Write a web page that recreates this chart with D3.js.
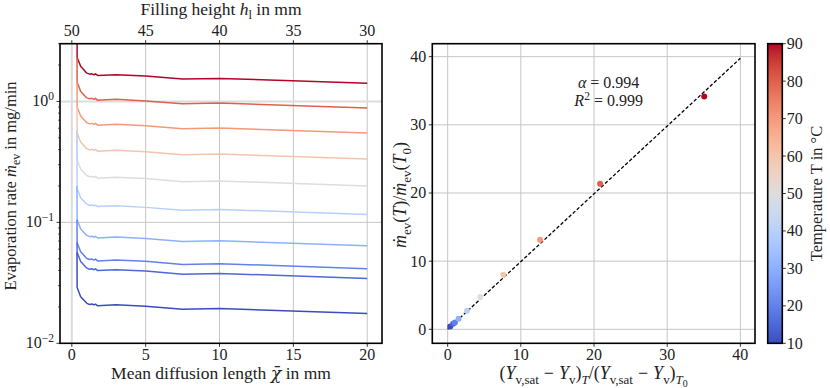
<!DOCTYPE html>
<html><head><meta charset="utf-8">
<script src="https://cdn.jsdelivr.net/npm/d3@7"></script>
<style>
body{margin:0;background:#fff}
svg{display:block}
text{font-family:"Liberation Serif","DejaVu Serif",serif;fill:#222}
</style>
</head><body>
<svg id="c" width="830" height="388"></svg>
<script>
// ---------------- data ----------------
const chi = [0.35, 0.36, 0.6, 1.0, 1.2, 1.35, 1.5, 1.6, 1.75, 3.0, 5.0, 7.5, 10.0, 20.0];
const temps = [90, 80, 70, 60, 50, 40, 30, 20, 15, 10];
const rate90 = [12.0, 2.31, 1.95, 1.72, 1.68, 1.69, 1.66, 1.69, 1.64, 1.66, 1.62, 1.53, 1.55, 1.41];
const rate80 = [2.31, 1.44, 1.21, 1.07, 1.05, 1.06, 1.04, 1.06, 1.02, 1.04, 1.01, 0.955, 0.968, 0.88];
const rate70 = [1.44, 0.899, 0.756, 0.669, 0.652, 0.658, 0.647, 0.658, 0.636, 0.647, 0.630, 0.595, 0.603, 0.548];
const rate60 = [0.899, 0.548, 0.461, 0.407, 0.397, 0.401, 0.394, 0.401, 0.387, 0.394, 0.384, 0.362, 0.367, 0.334];
const rate50 = [0.548, 0.328, 0.276, 0.244, 0.238, 0.240, 0.236, 0.240, 0.232, 0.236, 0.230, 0.217, 0.220, 0.200];
const rate40 = [0.58, 0.190, 0.160, 0.142, 0.138, 0.139, 0.137, 0.139, 0.135, 0.137, 0.133, 0.126, 0.128, 0.116];
const rate30 = [0.20, 0.105, 0.0883, 0.0781, 0.0762, 0.0768, 0.0755, 0.0768, 0.0742, 0.0755, 0.0736, 0.0694, 0.0704, 0.064];
const rate20 = [0.105, 0.0679, 0.0571, 0.0505, 0.0493, 0.0497, 0.0489, 0.0497, 0.0480, 0.0489, 0.0476, 0.0449, 0.0455, 0.0414];
const rate15 = [0.068, 0.0564, 0.0475, 0.0420, 0.0409, 0.0413, 0.0406, 0.0413, 0.0399, 0.0406, 0.0396, 0.0373, 0.0378, 0.0344];
const rate10 = [0.0564, 0.0289, 0.0243, 0.0215, 0.0209, 0.0211, 0.0208, 0.0211, 0.0204, 0.0208, 0.0202, 0.0191, 0.0194, 0.0176];
const rates = [rate90, rate80, rate70, rate60, rate50, rate40, rate30, rate20, rate15, rate10];

// right panel: normalised driving force vs normalised evaporation rate
const ratioX = [35.06, 20.83, 12.63, 7.61, 4.46, 2.64, 1.50, 1.00, 0.75, 0.35];
const ratioY = [34.16, 21.35, 13.14, 8.00, 4.74, 2.73, 1.56, 1.00, 0.83, 0.42];
const alphaFit = 0.994, r2Fit = 0.999;
const fitX = [0, 40];

const chiTicks = [0, 5, 10, 15, 20];
const hTicks = [50, 45, 40, 35, 30];
const logTicks = [0.01, 0.1, 1];
const logTickExp = ["−2", "−1", "0"];
const rightTicks = [0, 10, 20, 30, 40];
const cbTicks = [10, 20, 30, 40, 50, 60, 70, 80, 90];

// matplotlib coolwarm (Moreland) control colours
const coolwarm = [[59,76,192],[68,90,204],[77,104,215],[87,117,225],[98,130,234],[108,142,241],[119,154,247],[130,165,251],[141,176,254],[152,185,255],[163,194,255],[174,201,253],[184,208,249],[194,213,244],[204,217,238],[213,219,230],[221,221,221],[229,216,209],[236,211,197],[241,204,185],[245,196,173],[247,187,160],[247,177,148],[247,166,135],[244,154,123],[241,141,111],[236,127,99],[229,112,88],[222,96,77],[213,80,66],[203,62,56],[192,40,47],[180,4,38]];

// ---------------- helpers ----------------
const FS = 16;     // tick labels
const LS = 17.5;   // axis labels
const svg = d3.select("#c");
const cwScale = d3.scaleLinear()
  .domain(coolwarm.map((c,i)=>i/(coolwarm.length-1)))
  .range(coolwarm.map(c=>`rgb(${c[0]},${c[1]},${c[2]})`))
  .interpolate(d3.interpolateRgb);
const tNorm = d3.scaleLinear().domain([10, 90]).range([0, 1]);
const tColor = t => cwScale(tNorm(t));

function rich(sel, parts, fs) {
  let cur = 0;
  parts.forEach(p => {
    const t = p[0], o = p[1] || {};
    let level = 0, size = fs;
    if (o.sub) { level = fs*0.25; size = fs*0.72; }
    if (o.sub2) { level = fs*0.42; size = fs*0.55; }
    if (o.sup) { level = -fs*0.4; size = fs*0.72; }
    const ts = sel.append("tspan").attr("dy", level - cur)
      .style("font-size", size + "px")
      .style("font-style", o.i ? "italic" : "normal")
      .text(t);
    if (o.dx) ts.attr("dx", o.dx);
    if (o.font) ts.style("font-family", o.font);
    cur = level;
  });
}

// ---------------- left panel ----------------
const L = {x0: 60, x1: 382, y0: 43.7, y1: 343.3};
const xL = d3.scaleLinear().domain([-0.8, 21]).range([L.x0, L.x1]);
const hL = d3.scaleLinear().domain([50.8, 29]).range([L.x0, L.x1]);
const yL = d3.scaleLog().domain([0.01, 3]).range([L.y1, L.y0]);

const gL = svg.append("g");
gL.selectAll(".gx").data(chiTicks).join("line")
  .attr("x1", d=>xL(d)).attr("x2", d=>xL(d)).attr("y1", L.y0).attr("y2", L.y1)
  .attr("stroke", d=> d===0 ? "#dcdcdc" : "#c6c6c6").attr("stroke-width", d=> d===0 ? 2 : 1);
gL.selectAll(".gy").data(logTicks.slice(1)).join("line")
  .attr("x1", L.x0).attr("x2", L.x1).attr("y1", d=>yL(d)).attr("y2", d=>yL(d))
  .attr("stroke", d=> d===1 ? "#dcdcdc" : "#c6c6c6").attr("stroke-width", d=> d===1 ? 2 : 1);

svg.append("clipPath").attr("id", "clipL").append("rect")
  .attr("x", L.x0).attr("y", L.y0).attr("width", L.x1-L.x0).attr("height", L.y1-L.y0);
const line = d3.line().x((d,i)=>xL(chi[i])).y(d=>yL(d));
gL.append("g").attr("clip-path", "url(#clipL)")
  .selectAll("path").data(rates).join("path")
  .attr("d", d=>line(d)).attr("fill", "none")
  .attr("stroke", (d,i)=>tColor(temps[i])).attr("stroke-width", 1.5)
  .attr("stroke-linejoin", "round");

gL.append("rect").attr("x", L.x0).attr("y", L.y0).attr("width", L.x1-L.x0).attr("height", L.y1-L.y0)
  .attr("fill", "none").attr("stroke", "#000").attr("stroke-width", 1.6);

gL.selectAll(".bt").data(chiTicks).join("line")
  .attr("x1", d=>xL(d)).attr("x2", d=>xL(d)).attr("y1", L.y1).attr("y2", L.y1+3.5)
  .attr("stroke", "#000").attr("stroke-width", 0.8);
gL.selectAll(".btl").data(chiTicks).join("text")
  .attr("x", d=>xL(d)).attr("y", L.y1+17).attr("text-anchor", "middle")
  .style("font-size", FS+"px").text(d=>d);
gL.selectAll(".tt").data(hTicks).join("line")
  .attr("x1", d=>hL(d)).attr("x2", d=>hL(d)).attr("y1", L.y0).attr("y2", L.y0-3.5)
  .attr("stroke", "#000").attr("stroke-width", 0.8);
gL.selectAll(".ttl").data(hTicks).join("text")
  .attr("x", d=>hL(d)).attr("y", L.y0-8).attr("text-anchor", "middle")
  .style("font-size", FS+"px").text(d=>d);
gL.selectAll(".lt").data(logTicks).join("line")
  .attr("x1", L.x0).attr("x2", L.x0-3.5).attr("y1", d=>yL(d)).attr("y2", d=>yL(d))
  .attr("stroke", "#000").attr("stroke-width", 0.8);
const minors = [];
[0.01, 0.1, 1].forEach(dec => { for (let k=2;k<=9;k++){ const v=k*dec; if (v<=3) minors.push(v);} });
gL.selectAll(".lmt").data(minors).join("line")
  .attr("x1", L.x0).attr("x2", L.x0-2).attr("y1", d=>yL(d)).attr("y2", d=>yL(d))
  .attr("stroke", "#000").attr("stroke-width", 0.6);
logTicks.forEach((v,i) => {
  const t = gL.append("text").attr("x", L.x0-6).attr("y", yL(v)+5).attr("text-anchor", "end")
    .style("font-size", FS+"px");
  rich(t, [["10"], [logTickExp[i], {sup:true}]], FS);
});
{
  const t = svg.append("text").attr("x", (L.x0+L.x1)/2).attr("y", 379).attr("text-anchor", "middle").style("font-size", LS+"px");
  rich(t, [["Mean diffusion length "], ["χ̄", {i:true, font:"DejaVu Serif"}], [" in mm"]], LS);
  const t2 = svg.append("text").attr("x", (L.x0+L.x1)/2).attr("y", 14.5).attr("text-anchor", "middle").style("font-size", LS+"px");
  rich(t2, [["Filling height "], ["h", {i:true}], ["l", {sub:true}], [" in mm"]], LS);
  const t3 = svg.append("text").attr("transform", "translate(15.5,186) rotate(-90)").attr("text-anchor", "middle").style("font-size", "16.5px");
  rich(t3, [["Evaporation rate "], ["ṁ", {i:true}], ["ev", {sub:true}], [" in mg/min"]], 16.5);
}

// ---------------- right panel ----------------
const R = {x0: 432.3, x1: 755, y0: 43.7, y1: 343.3};
const xR = d3.scaleLinear().domain([-2.1, 42]).range([R.x0, R.x1]);
const yR = d3.scaleLinear().domain([-2.05, 41.9]).range([R.y1, R.y0]);
const gR = svg.append("g");
gR.selectAll(".gx").data(rightTicks).join("line")
  .attr("x1", d=>xR(d)).attr("x2", d=>xR(d)).attr("y1", R.y0).attr("y2", R.y1)
  .attr("stroke", "#c6c6c6").attr("stroke-width", 1);
gR.selectAll(".gy").data(rightTicks).join("line")
  .attr("x1", R.x0).attr("x2", R.x1).attr("y1", d=>yR(d)).attr("y2", d=>yR(d))
  .attr("stroke", "#c6c6c6").attr("stroke-width", 1);
gR.append("path").attr("d", d3.line().x(d=>xR(d)).y(d=>yR(alphaFit*d))(fitX))
  .attr("stroke", "#000").attr("stroke-width", 1.3).attr("stroke-dasharray", "3.5,2").attr("fill", "none");
const pts = temps.map((t,i)=>({t, x: ratioX[i], y: ratioY[i]}));
gR.selectAll("circle").data(pts.slice().reverse()).join("circle")
  .attr("cx", d=>xR(d.x)).attr("cy", d=>yR(d.y)).attr("r", 3)
  .attr("fill", d=>tColor(d.t));
gR.append("rect").attr("x", R.x0).attr("y", R.y0).attr("width", R.x1-R.x0).attr("height", R.y1-R.y0)
  .attr("fill", "none").attr("stroke", "#000").attr("stroke-width", 1.6);
gR.selectAll(".bt").data(rightTicks).join("line")
  .attr("x1", d=>xR(d)).attr("x2", d=>xR(d)).attr("y1", R.y1).attr("y2", R.y1+3.5)
  .attr("stroke", "#000").attr("stroke-width", 0.8);
gR.selectAll(".btl").data(rightTicks).join("text")
  .attr("x", d=>xR(d)).attr("y", R.y1+17).attr("text-anchor", "middle")
  .style("font-size", FS+"px").text(d=>d);
gR.selectAll(".lt").data(rightTicks).join("line")
  .attr("x1", R.x0).attr("x2", R.x0-3.5).attr("y1", d=>yR(d)).attr("y2", d=>yR(d))
  .attr("stroke", "#000").attr("stroke-width", 0.8);
gR.selectAll(".ltl").data(rightTicks).join("text")
  .attr("x", R.x0-6).attr("y", d=>yR(d)+5.5).attr("text-anchor", "end")
  .style("font-size", FS+"px").text(d=>d);
{
  const AS = 16;
  const ax = xR(22), ay = yR(35);
  const a1 = gR.append("text").attr("x", ax).attr("y", ay-2.5).attr("text-anchor", "middle").style("font-size", AS+"px");
  rich(a1, [["α", {i:true}], [" = " + alphaFit.toFixed(3)]], AS);
  const a2 = gR.append("text").attr("x", ax).attr("y", ay+15.5).attr("text-anchor", "middle").style("font-size", AS+"px");
  rich(a2, [["R", {i:true}], ["2", {sup:true}], [" = " + r2Fit.toFixed(3), {}]], AS);
}
{
  const XS = 18;
  const t = svg.append("text").attr("x", (R.x0+R.x1)/2).attr("y", 379).attr("text-anchor", "middle").style("font-size", XS+"px");
  rich(t, [["("], ["Y", {i:true}], ["v,sat", {sub:true}], ["−", {dx:5}], ["Y", {i:true, dx:5}], ["v", {sub:true}], [")"], ["T", {i:true, sub:true}],
           ["/("], ["Y", {i:true}], ["v,sat", {sub:true}], ["−", {dx:5}], ["Y", {i:true, dx:5}], ["v", {sub:true}], [")"], ["T", {i:true, sub:true}], ["0", {sub2:true}]], XS);
  const YS = 18;
  const t2 = svg.append("text").attr("transform", "translate(406,195) rotate(-90)").attr("text-anchor", "middle").style("font-size", YS+"px");
  rich(t2, [["ṁ", {i:true}], ["ev", {sub:true}], ["("], ["T", {i:true}], [")/"], ["ṁ", {i:true}], ["ev", {sub:true}], ["("], ["T", {i:true}], ["0", {sub:true}], [")"]], YS);
}

// ---------------- colorbar ----------------
const C = {x0: 767.7, x1: 782.3, y0: 43.7, y1: 343.3};
const yC = d3.scaleLinear().domain([10, 90]).range([C.y1, C.y0]);
const grad = svg.append("defs").append("linearGradient").attr("id", "cw")
  .attr("x1", 0).attr("y1", 1).attr("x2", 0).attr("y2", 0);
grad.selectAll("stop").data(coolwarm).join("stop")
  .attr("offset", (d,i)=>i/(coolwarm.length-1))
  .attr("stop-color", d=>`rgb(${d[0]},${d[1]},${d[2]})`);
svg.append("rect").attr("x", C.x0).attr("y", C.y0).attr("width", C.x1-C.x0).attr("height", C.y1-C.y0)
  .attr("fill", "url(#cw)").attr("stroke", "#000").attr("stroke-width", 1.6);
svg.selectAll(".ct").data(cbTicks).join("line")
  .attr("x1", C.x1).attr("x2", C.x1+3.5).attr("y1", d=>yC(d)).attr("y2", d=>yC(d))
  .attr("stroke", "#000").attr("stroke-width", 0.8);
svg.selectAll(".ctl").data(cbTicks).join("text")
  .attr("x", C.x1+4.5).attr("y", d=>yC(d)+5.5).attr("text-anchor", "start")
  .style("font-size", FS+"px").text(d=>d);
svg.append("text").attr("transform", `translate(822,${(C.y0+C.y1)/2}) rotate(-90)`)
  .attr("text-anchor", "middle").style("font-size", "16.5px").text("Temperature T in °C");
</script>
</body></html>
